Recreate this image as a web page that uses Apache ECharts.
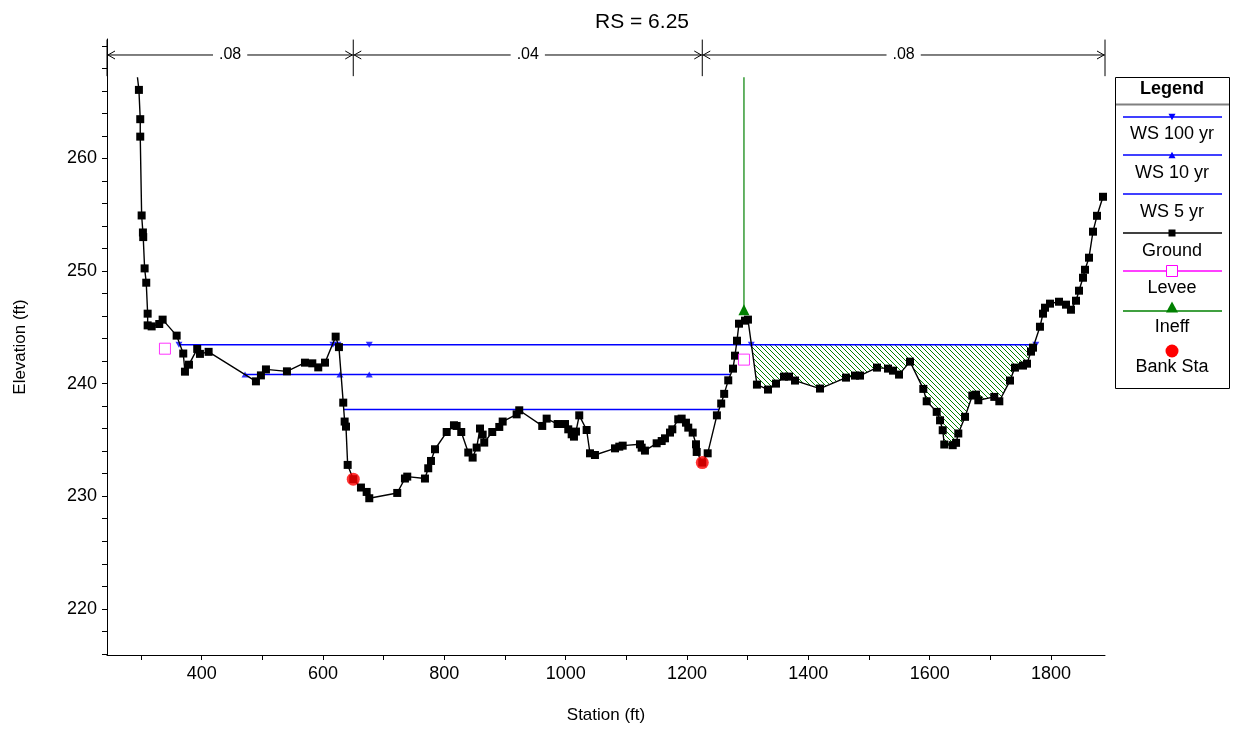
<!DOCTYPE html>
<html>
<head>
<meta charset="utf-8">
<script src="https://cdn.jsdelivr.net/npm/echarts@6/dist/echarts.min.js"></script>
<style>
  html, body { margin: 0; padding: 0; background: #fff; }
  #chart { width: 1241px; height: 733px; }
</style>
</head>
<body>
<div id="chart"></div>
<script>
// ground profile (station ft, elevation ft)
var groundStation = [294.2, 296.6, 298.8, 298.8, 301.1, 303.2, 303.7, 306.0, 308.7, 311.0, 311.0, 317.6, 330.1, 335.7,
  358.8, 369.7, 372.5, 379.1, 392.7, 397.2, 411.5, 489.5, 497.7, 506.0, 540.6, 570.3, 582.4, 592.2, 603.3, 620.9,
  626.3, 633.4, 635.7, 637.9, 640.7, 649.9, 662.6, 672.0, 676.3, 722.4, 735.1, 738.9, 768.1, 773.5, 778.0, 784.6,
  803.9, 815.9, 820.3, 827.9, 839.5, 846.7, 853.3, 858.8, 863.2, 865.8, 879.0, 890.6, 896.2, 919.2, 923.5, 961.4,
  968.7, 986.8, 998.9, 1004.3, 1009.9, 1013.7, 1017.0, 1022.4, 1034.6, 1040.1, 1048.3, 1081.3, 1088.4, 1094.0,
  1122.5, 1125.3, 1130.7, 1150.0, 1158.3, 1163.7, 1172.0, 1175.8, 1185.6, 1191.2, 1198.3, 1202.1, 1209.4, 1214.8,
  1216.0, 1225.2, 1234.1, 1249.3, 1256.4, 1261.3, 1268.0, 1275.8, 1279.1, 1282.4, 1285.7, 1295.6, 1300.5, 1315.3,
  1333.5, 1346.7, 1359.9, 1368.1, 1378.0, 1419.2, 1462.1, 1476.9, 1485.2, 1513.2, 1531.3, 1539.6, 1549.5, 1567.6,
  1589.5, 1595.1, 1611.6, 1617.1, 1621.5, 1624.1, 1638.0, 1643.5, 1647.2, 1658.3, 1670.3, 1676.4, 1680.2, 1706.5,
  1714.8, 1732.4, 1740.6, 1753.8, 1760.4, 1767.0, 1770.3, 1781.8, 1786.8, 1790.1, 1798.3, 1813.2, 1824.7, 1832.9,
  1841.2, 1846.1, 1852.7, 1856.0, 1862.6, 1869.2, 1875.8, 1885.7];
var groundElev = [267.20, 266.08, 263.48, 261.93, 254.93, 253.42, 253.01, 250.23, 248.96, 246.21, 245.17, 245.08, 245.29, 245.68,
  244.26, 242.67, 241.06, 241.68, 243.08, 242.64, 242.82, 240.20, 240.73, 241.26, 241.09, 241.86, 241.80, 241.44, 241.86, 244.17,
  243.24, 238.31, 236.63, 236.18, 232.78, 231.51, 230.77, 230.38, 229.82, 230.29, 231.57, 231.74, 231.57, 232.48, 233.13, 234.17,
  235.70, 236.30, 236.24, 235.70, 233.88, 233.43, 234.32, 236.01, 235.47, 234.76, 235.70, 236.15, 236.63, 237.27, 237.63, 236.24,
  236.89, 236.41, 236.41, 235.94, 235.50, 235.29, 235.74, 237.18, 235.88, 233.81, 233.66, 234.25, 234.40, 234.49,
  234.61, 234.31, 234.05, 234.70, 234.90, 235.14, 235.65, 235.94, 236.83, 236.89, 236.53, 236.09, 235.65, 234.61,
  233.93, 232.99, 233.81, 237.18, 238.23, 239.09, 240.29, 241.33, 242.48, 243.81, 245.32, 245.59, 245.68, 239.91,
  239.47, 240.00, 240.62, 240.62, 240.27, 239.56, 240.53, 240.71, 240.71, 241.42, 241.33, 241.15, 240.80, 241.95,
  239.53, 238.43, 237.49, 236.74, 235.86, 234.59, 234.53, 234.74, 235.57, 237.05, 238.94, 239.02, 238.52, 238.82,
  238.43, 240.27, 241.42, 241.60, 241.77, 242.84, 243.19, 245.05, 246.21, 246.74, 247.10, 247.27, 247.01, 246.56,
  247.36, 248.25, 249.40, 250.11, 251.18, 253.49, 254.90, 256.59];

// water surfaces
var ws100Elev = 243.46;
var ws100Station = [362.6, 1775.0];
var ws100Marks = [362.6, 616.4, 624.6, 676.3, 1306.0, 1775.0];
var ws10Elev = 240.80;
var ws10Station = [471.5, 1271.0];
var ws10Marks = [471.5, 628.0, 676.3];
var ws5Elev = 237.69;
var ws5Station = [634.2, 1252.5];

// levees, ineffective area, bank stations
var leveeStation = [339.5, 1293.9];
var leveeElev = [243.10, 242.13];
var ineffStation = 1293.9;
var ineffElev = 246.55;
var ineffTop = 267.2;
var ineffLimits = [1306.0, 1775.0];
var bankStation = [649.9, 1225.2];
var bankElev = [231.51, 232.99];

// Manning's n values
var nStation = [244, 649.9, 1225.2, 1889];
var nValue = ['.08', '.04', '.08'];

// ticks
var xTicks = [300, 400, 500, 600, 700, 800, 900, 1000, 1100, 1200, 1300, 1400, 1500, 1600, 1700, 1800];
var xLabels = [400, 600, 800, 1000, 1200, 1400, 1600, 1800];
var yTicks = [216, 218, 220, 222, 224, 226, 228, 230, 232, 234, 236, 238, 240, 242, 244, 246, 248, 250,
  252, 254, 256, 258, 260, 262, 264, 266, 268, 270];
var yLabels = [220, 230, 240, 250, 260];

var FONT = '"Liberation Sans", Arial, sans-serif';
var BLUE = '#0000ff', GREEN = '#008000', MAGENTA = '#ff00ff', RED = '#ff0000';

var groundData = groundStation.map(function (s, i) { return [s, groundElev[i]]; });
groundData[0] = { value: groundData[0], symbol: 'none' };

// hatched polygon: WS 100 top edge + ground between the ineffective limits
var hatchPoly = [[ineffLimits[0], ws100Elev], [ineffLimits[1], ws100Elev]];
for (var i = groundStation.length - 1; i >= 0; i--) {
  if (groundStation[i] > ineffLimits[0] && groundStation[i] < ineffLimits[1]) {
    hatchPoly.push([groundStation[i], groundElev[i]]);
  }
}

function makeHatch() {
  var c = document.createElement('canvas');
  c.width = 5; c.height = 5;
  var g = c.getContext('2d');
  g.strokeStyle = GREEN;
  g.lineWidth = 1;
  g.beginPath();
  g.moveTo(-1, -1); g.lineTo(6, 6);
  g.stroke();
  return c;
}
var hatchImg = makeHatch();

var nBarElev = 269.18, nTickTop = 270.55, nTickBottom = 267.3;

function renderN(params, api) {
  var i = params.dataIndex;
  var a = api.coord([nStation[i], nBarElev]);
  var b = api.coord([nStation[i + 1], nBarElev]);
  var ln = { stroke: '#000', lineWidth: 1 };
  var kids = [
    { type: 'line', shape: { x1: a[0], y1: a[1], x2: b[0], y2: b[1] }, style: ln },
    { type: 'polyline', shape: { points: [[a[0] + 8, a[1] - 4], [a[0] + 1, a[1]], [a[0] + 8, a[1] + 4]] }, style: { stroke: '#000', fill: null, lineWidth: 1 } },
    { type: 'polyline', shape: { points: [[b[0] - 8, b[1] - 4], [b[0] - 1, b[1]], [b[0] - 8, b[1] + 4]] }, style: { stroke: '#000', fill: null, lineWidth: 1 } }
  ];
  var ends = [i];
  if (i === nValue.length - 1) ends.push(i + 1);
  ends.forEach(function (k) {
    var t0 = api.coord([nStation[k], nTickTop]);
    var t1 = api.coord([nStation[k], nTickBottom]);
    kids.push({ type: 'line', shape: { x1: t0[0], y1: t0[1], x2: t1[0], y2: t1[1] }, style: ln });
  });
  kids.push({
    type: 'text',
    x: (a[0] + b[0]) / 2, y: a[1],
    style: {
      text: nValue[i], fill: '#000', font: '16px ' + FONT,
      align: 'center', verticalAlign: 'middle', textAlign: 'center', textVerticalAlign: 'middle',
      backgroundColor: '#fff', padding: [0, 6]
    }
  });
  return { type: 'group', children: kids };
}

function renderHatch(params, api) {
  if (params.dataIndex !== 0) return null;
  var pts = hatchPoly.map(function (p) { return api.coord(p); });
  return {
    type: 'polygon',
    shape: { points: pts },
    style: { fill: { image: hatchImg, repeat: 'repeat' }, stroke: null }
  };
}

// legend box drawn with graphic elements
var LX = 1172, L1 = 1123, L2 = 1222;
function sampleLine(y, color) {
  return { type: 'line', shape: { x1: L1, y1: y, x2: L2, y2: y }, style: { stroke: color, lineWidth: 1.5 } };
}
function legText(y, txt, bold) {
  return {
    type: 'text', x: LX, y: y,
    style: { text: txt, fill: '#000', font: (bold ? 'bold ' : '') + '18px ' + FONT, align: 'center', verticalAlign: 'middle' }
  };
}
function tri(x, y, s, down, color) {
  var h = s * 0.9;
  var pts = down ? [[x - s / 2, y - h / 2], [x + s / 2, y - h / 2], [x, y + h / 2]]
                 : [[x - s / 2, y + h / 2], [x + s / 2, y + h / 2], [x, y - h / 2]];
  return { type: 'polygon', shape: { points: pts }, style: { fill: color } };
}
var legendGraphic = [
  { type: 'rect', shape: { x: 1115.5, y: 77.5, width: 114, height: 311 }, style: { fill: '#fff', stroke: '#000', lineWidth: 1 } },
  legText(89.5, 'Legend', true),
  { type: 'line', shape: { x1: 1116, y1: 104.5, x2: 1229, y2: 104.5 }, style: { stroke: '#808080', lineWidth: 2 } },
  sampleLine(117, BLUE), tri(LX, 117, 7, true, BLUE), legText(134.5, 'WS 100 yr'),
  sampleLine(155, BLUE), tri(LX, 155, 7, false, BLUE), legText(173, 'WS 10 yr'),
  sampleLine(194, BLUE), legText(212, 'WS 5 yr'),
  sampleLine(233, '#000'), { type: 'rect', shape: { x: LX - 3.5, y: 229.5, width: 7, height: 7 }, style: { fill: '#000' } }, legText(251, 'Ground'),
  sampleLine(271, MAGENTA), { type: 'rect', shape: { x: LX - 5.5, y: 265.5, width: 11, height: 11 }, style: { fill: '#fff', stroke: MAGENTA, lineWidth: 1 } }, legText(288.5, 'Levee'),
  sampleLine(311, GREEN), tri(LX, 307, 12, false, GREEN), legText(327.5, 'Ineff'),
  { type: 'circle', shape: { cx: LX, cy: 351, r: 6.5 }, style: { fill: RED } }, legText(367, 'Bank Sta')
];

var chart = echarts.init(document.getElementById('chart'));
chart.setOption({
  animation: false,
  backgroundColor: '#fff',
  title: {
    text: 'RS = 6.25', left: 637, top: 7, textAlign: 'center',
    textStyle: { fontFamily: FONT, fontSize: 21, fontWeight: 'normal', color: '#000' }
  },
  grid: { left: 107, right: 136, top: 39, bottom: 78 },
  xAxis: {
    type: 'value', min: 244, max: 1889,
    name: 'Station (ft)', nameLocation: 'middle', nameGap: 52,
    nameTextStyle: { fontFamily: FONT, fontSize: 17, color: '#000' },
    axisLine: { show: true, onZero: false, lineStyle: { color: '#000', width: 1 } },
    axisTick: { show: true, length: 5, customValues: xTicks, lineStyle: { color: '#000' } },
    axisLabel: {
      customValues: xLabels, margin: 10, fontFamily: FONT, fontSize: 18, color: '#000',
      formatter: function (v) { return String(v); }
    },
    splitLine: { show: false }
  },
  yAxis: {
    type: 'value', min: 215.9, max: 270.6,
    name: 'Elevation (ft)', nameLocation: 'middle', nameGap: 78, nameRotate: 90,
    nameTextStyle: { fontFamily: FONT, fontSize: 17, color: '#000' },
    axisLine: { show: true, onZero: false, lineStyle: { color: '#000', width: 1 } },
    axisTick: { show: true, length: 5, customValues: yTicks, lineStyle: { color: '#000' } },
    axisLabel: {
      customValues: yLabels, margin: 10, fontFamily: FONT, fontSize: 18, color: '#000',
      formatter: function (v) { return String(v); }
    },
    splitLine: { show: false }
  },
  graphic: legendGraphic,
  series: [
    {
      name: 'Ineff area', type: 'custom', renderItem: renderHatch, data: [0], z: 1, silent: true
    },
    {
      name: 'n values', type: 'custom', renderItem: renderN, clip: false,
      data: nValue.map(function (v, i) { return [nStation[i], nStation[i + 1]]; }), z: 5, silent: true
    },
    {
      name: 'WS 5 yr', type: 'line', showSymbol: false, z: 3,
      data: ws5Station.map(function (s) { return [s, ws5Elev]; }),
      lineStyle: { color: BLUE, width: 1.5 }, itemStyle: { color: BLUE }
    },
    {
      name: 'WS 10 yr', type: 'line', showSymbol: false, z: 3,
      data: ws10Station.map(function (s) { return [s, ws10Elev]; }),
      lineStyle: { color: BLUE, width: 1.5 }, itemStyle: { color: BLUE }
    },
    {
      name: 'WS 10 yr marks', type: 'scatter', symbol: 'triangle', symbolSize: [7, 6], z: 4,
      data: ws10Marks.map(function (s) { return [s, ws10Elev]; }),
      itemStyle: { color: BLUE }
    },
    {
      name: 'WS 100 yr', type: 'line', showSymbol: false, z: 3,
      data: ws100Station.map(function (s) { return [s, ws100Elev]; }),
      lineStyle: { color: BLUE, width: 1.5 }, itemStyle: { color: BLUE }
    },
    {
      name: 'WS 100 yr marks', type: 'scatter', symbol: 'triangle', symbolRotate: 180, symbolSize: [7, 6], z: 4,
      data: ws100Marks.map(function (s) { return [s, ws100Elev]; }),
      itemStyle: { color: BLUE }
    },
    {
      name: 'Ground', type: 'line', symbol: 'rect', symbolSize: 8, showAllSymbol: true, z: 6,
      data: groundData,
      lineStyle: { color: '#000', width: 1.4 }, itemStyle: { color: '#000' }
    },
    {
      name: 'Levee', type: 'scatter', symbol: 'rect', symbolSize: 11, z: 7,
      data: leveeStation.map(function (s, i) { return [s, leveeElev[i]]; }),
      itemStyle: { color: '#fff', borderColor: MAGENTA, borderWidth: 1 }
    },
    {
      name: 'Ineff', type: 'line', z: 7,
      data: [
        { value: [ineffStation, ineffElev], symbol: 'triangle', symbolSize: 11 },
        { value: [ineffStation, ineffTop], symbol: 'none' }
      ],
      lineStyle: { color: GREEN, width: 1.2 }, itemStyle: { color: GREEN }
    },
    {
      name: 'Bank Sta', type: 'scatter', symbol: 'circle', symbolSize: 13, z: 8,
      data: bankStation.map(function (s, i) { return [s, bankElev[i]]; }),
      itemStyle: { color: RED }
    }
  ]
});
</script>
</body>
</html>
